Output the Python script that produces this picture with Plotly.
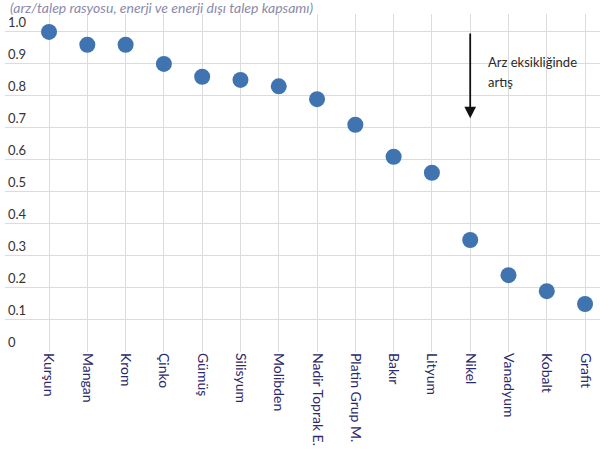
import plotly.graph_objects as go

# Minerals and supply/demand ratio
minerals = ["Kurşun", "Mangan", "Krom", "Çinko", "Gümüş", "Silisyum", "Molibden",
            "Nadir Toprak E.", "Platin Grup M.", "Bakır", "Lityum", "Nikel",
            "Vanadyum", "Kobalt", "Grafit"]
ratio = [1.00, 0.96, 0.96, 0.90, 0.86, 0.85, 0.83, 0.79, 0.71, 0.61, 0.56, 0.35, 0.24, 0.19, 0.15]

y_ticks = [0, 0.1, 0.2, 0.3, 0.4, 0.5, 0.6, 0.7, 0.8, 0.9, 1.0]
y_tick_text = ["0", "0.1", "0.2", "0.3", "0.4", "0.5", "0.6", "0.7", "0.8", "0.9", "1.0"]

subtitle = "(arz/talep rasyosu, enerji ve enerji dışı talep kapsamı)"
note_lines = ["Arz eksikliğinde", "artış"]

FONT = "Lato, Open Sans, sans-serif"

fig = go.Figure()
fig.add_trace(go.Scatter(
    x=list(range(len(minerals))), y=ratio, mode="markers",
    marker=dict(size=16, color="#3f74b1"),
    hoverinfo="skip", showlegend=False,
))

fig.update_layout(
    width=600, height=450,
    margin=dict(l=5, r=0, t=14, b=98),
    paper_bgcolor="white", plot_bgcolor="white",
    font=dict(family=FONT, size=13, color="#333333"),
    xaxis=dict(
        range=[-1.15, 14.39],
        tickmode="array", tickvals=list(range(len(minerals))), ticktext=minerals,
        tickangle=90, showgrid=True, gridcolor="#dcdcdc", gridwidth=1,
        zeroline=False, showline=False, ticks="",
        tickfont=dict(size=14, color="#2b2a6b"),
        fixedrange=True,
    ),
    yaxis=dict(
        range=[0, 1.056],
        tickmode="array", tickvals=y_ticks, ticktext=y_tick_text,
        ticklabelposition="inside top",
        showgrid=True, gridcolor="#dcdcdc", gridwidth=1,
        zeroline=False, showline=False, ticks="",
        tickfont=dict(size=13, color="#333333"),
        fixedrange=True,
    ),
)

# Subtitle at the very top
fig.add_annotation(
    text="<i>" + subtitle + "</i>", xref="paper", yref="paper", x=0.0, y=1.0,
    xanchor="left", yanchor="bottom", xshift=3, yshift=-4, showarrow=False,
    font=dict(size=14, color="#8a8aaa", family=FONT),
)
# White box behind the note text
fig.add_shape(type="rect", xref="x", yref="y", x0=10.9, x1=14.39, y0=0.84, y1=0.94,
              fillcolor="white", line=dict(width=0), layer="below")
# Downward arrow for rising shortage
fig.add_annotation(
    x=11, y=0.73, ax=11, ay=1.0, xref="x", yref="y", axref="x", ayref="y",
    showarrow=True, arrowhead=2, arrowsize=1.3, arrowwidth=1.8, arrowcolor="#111111",
    text="",
)
for i, line in enumerate(note_lines):
    fig.add_annotation(
        text=line, xref="x", yref="y", x=11.42, y=0.906 - i * 0.0625,
        xanchor="left", yanchor="middle", showarrow=False, align="left",
        font=dict(size=13, color="#2a2a2a", family=FONT),
    )

fig.write_html("out.html")
